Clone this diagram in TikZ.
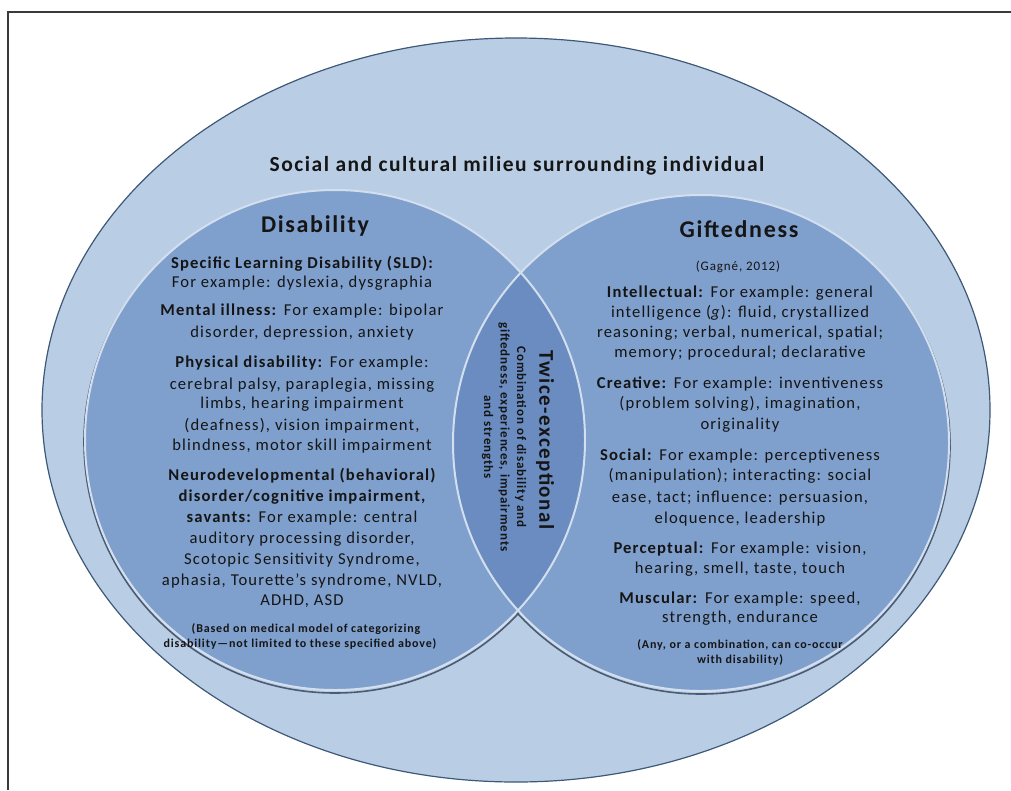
\documentclass[tikz,border=0pt]{standalone}
\usepackage{fontspec}
\setmainfont{Carlito}[LetterSpace=7]
\usetikzlibrary{shapes.geometric}
\definecolor{outerfill}{HTML}{B9CDE5}
\definecolor{outerdraw}{HTML}{3E5877}
\definecolor{innerfill}{HTML}{7F9FCC}
\definecolor{lensfill}{HTML}{6A8CC0}
\definecolor{rimcol}{HTML}{D3DFEE}
\definecolor{shadowcol}{HTML}{4A5C74}
\definecolor{framecol}{HTML}{3A3A3A}
\definecolor{txt}{HTML}{151515}
\tikzset{
  body/.style={font=\fontsize{16.6}{20}\selectfont, inner sep=0pt, anchor=base, text=txt},
  bodyb/.style={body, font=\fontsize{16.6}{20}\selectfont\bfseries},
  small/.style={font=\fontsize{12}{14}\selectfont\bfseries, inner sep=0pt, anchor=base, text=txt},
  heading/.style={font=\fontsize{24}{28}\selectfont\bfseries, inner sep=0pt, anchor=base, text=txt},
  setcircle/.style={circle, inner sep=0pt, minimum size=#1}
}
\begin{document}
\begin{tikzpicture}[x=1pt, y=-1pt]
\useasboundingbox (0,0) rectangle (1011,790);
% frame
\draw[framecol, line width=1.5pt] (8,790) -- (8,12) -- (1011,12);
% outer ellipse
\node[ellipse, draw=outerdraw, fill=outerfill, line width=1.2pt, minimum width=948pt, minimum height=744pt, inner sep=0pt] (milieu) at (516,410) {};
% circle centres
\coordinate (Lc) at (335,440);
\coordinate (Rc) at (701,443);
% shadows
\draw[shadowcol, line width=1.6pt] ([yshift=-2pt]Lc) circle[radius=251pt];
\draw[shadowcol, line width=1.6pt] ([yshift=-2pt]Rc) circle[radius=249pt];
% fills
\node[setcircle=500pt, fill=innerfill] (dis) at (Lc) {};
\node[setcircle=496pt, fill=innerfill] (gif) at (Rc) {};
\begin{scope}
  \clip (Lc) circle[radius=250pt];
  \fill[lensfill] (Rc) circle[radius=248pt];
\end{scope}
% rims
\draw[rimcol, line width=2pt] (Lc) circle[radius=250pt];
\draw[rimcol, line width=2pt] (Rc) circle[radius=248pt];

% title
\node[font=\fontsize{21.5}{26}\selectfont\bfseries, inner sep=0pt, anchor=base, text=txt] (title) at (517,171) {Social and cultural milieu surrounding individual};

% Disability
\node[heading] (d0) at (315,232) {Disability};
\node[bodyb] (d1) at (302,268) {Specific Learning Disability (SLD):};
\node[body] (d2) at (302,287) {For example: dyslexia, dysgraphia};
\node[body] (d3) at (302,315) {\textbf{Mental illness:} For example: bipolar};
\node[body] (d4) at (302,337) {disorder, depression, anxiety};
\node[body] (d5) at (302,367) {\textbf{Physical disability:} For example:};
\node[body] (d6) at (302,389) {cerebral palsy, paraplegia, missing};
\node[body] (d7) at (302,408) {limbs, hearing impairment};
\node[body] (d8) at (302,430) {(deafness), vision impairment,};
\node[body] (d9) at (302,450) {blindness, motor skill impairment};
\node[bodyb] (d10) at (302,480) {Neurodevelopmental (behavioral)};
\node[bodyb] (d11) at (302,501) {disorder/cognitive impairment,};
\node[body] (d12) at (302,522) {\textbf{savants:} For example: central};
\node[body] (d13) at (302,543) {auditory processing disorder,};
\node[body] (d14) at (302,564) {Scotopic Sensitivity Syndrome,};
\node[body] (d15) at (302,585) {aphasia, Tourette's syndrome, NVLD,};
\node[body] (d16) at (302,605) {ADHD, ASD};
\node[small] (d17) at (306,632) {(Based on medical model of categorizing};
\node[small] (d18) at (300,647) {disability---not limited to these specified above)};

% Giftedness
\node[heading] (g0) at (739,237) {Giftedness};
\node[small, font=\fontsize{13}{15}\selectfont] (g1) at (738,270) {(Gagné, 2012)};
\node[body] (g2) at (740,297) {\textbf{Intellectual:} For example: general};
\node[body] (g3) at (740,317) {intelligence (\textit{g}): fluid, crystallized};
\node[body] (g4) at (740,337) {reasoning; verbal, numerical, spatial;};
\node[body] (g5) at (740,357) {memory; procedural; declarative};
\node[body] (g6) at (740,388) {\textbf{Creative:} For example: inventiveness};
\node[body] (g7) at (740,408) {(problem solving), imagination,};
\node[body] (g8) at (740,429) {originality};
\node[body] (g9) at (740,460) {\textbf{Social:} For example: perceptiveness};
\node[body] (g10) at (740,480) {(manipulation); interacting: social};
\node[body] (g11) at (740,502) {ease, tact; influence: persuasion,};
\node[body] (g12) at (740,523) {eloquence, leadership};
\node[body] (g13) at (740,553) {\textbf{Perceptual:} For example: vision,};
\node[body] (g14) at (740,573) {hearing, smell, taste, touch};
\node[body] (g15) at (740,603) {\textbf{Muscular:} For example: speed,};
\node[body] (g16) at (740,622) {strength, endurance};
\node[small] (g17) at (740,648) {(Any, or a combination, can co-occur};
\node[small] (g18) at (740,663) {with disability)};

% Twice-exceptional
\node[rotate=-90, font=\fontsize{21}{24}\selectfont\bfseries, inner sep=0pt, text=txt] (tw) at (545,440) {Twice-exceptional};
\node[rotate=-90, font=\fontsize{13}{16.5}\selectfont\bfseries, inner sep=0pt, text=txt, align=center] (tws) at (504,437) {Combination of disability and\\giftedness, experiences, impairments\\and strengths};
\end{tikzpicture}
\end{document}
